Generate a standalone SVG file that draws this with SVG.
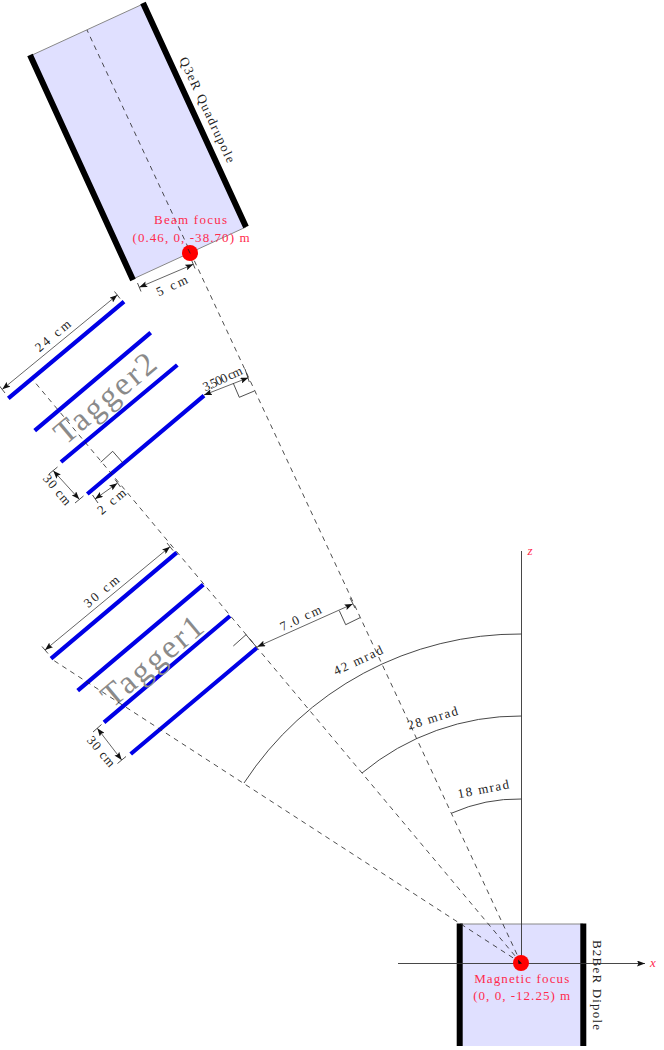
<svg xmlns="http://www.w3.org/2000/svg" width="664" height="1050" viewBox="0 0 664 1050">
<style>
text{font-family:"Liberation Serif","Times New Roman",serif;font-size:13px;fill:#222;text-anchor:middle}
.red{fill:#ff2a4d}
.big{font-size:33px;fill:#8a8a8a}
.mag{fill:#e0e0ff}
.edge{stroke:#888;stroke-width:1;fill:none}
.yoke{stroke:#000;stroke-width:6;fill:none}
.bar{stroke:#0000e6;stroke-width:4.2;fill:none}
.dash{stroke:#222;stroke-width:.8;stroke-dasharray:5 4.5;fill:none}
.thin{stroke:#222;stroke-width:.8;fill:none}
.arc{stroke:#333;stroke-width:.9;fill:none}
.dim{stroke:#222;stroke-width:.7;fill:none;marker-start:url(#a);marker-end:url(#a)}
.axis{stroke:#333;stroke-width:.9;fill:none;marker-end:url(#a)}
</style>
<defs>
<marker id="a" viewBox="0 0 8 6" refX="8" refY="3" markerWidth="8" markerHeight="6" markerUnits="userSpaceOnUse" orient="auto-start-reverse"><path d="M0 0L8 3L0 6L1.5 3Z" fill="#111"/></marker>
</defs>
<g id="q3er-quadrupole">
<polygon class="mag" points="143,4 246,227 133,279 30,56"/>
<path class="edge" d="M30 56L143 4M133 279L246 227"/>
<path class="yoke" d="M143 3L246 227M30 55L133 280"/>
<text transform="translate(207,110) rotate(65) translate(0,4)" textLength="115">Q3eR Quadrupole</text>
</g>
<g id="b2ber-dipole">
<rect class="mag" x="460" y="924" width="123" height="122"/>
<path class="edge" d="M460 924H583"/>
<path class="yoke" d="M459.700 923.500V1046M583.300 923.500V1046"/>
<text transform="translate(597,985) rotate(90) translate(0,4)" textLength="90">B2BeR Dipole</text>
</g>
<g id="tagger2">
<path class="bar" d="M8.300 398.300L124 301.700M34.700 430.700L150.700 332.700M61 462L177.300 365M87.300 494L204 395.700"/>
<text class="big" transform="translate(105,398) rotate(-40) translate(0,11)" textLength="122">Tagger2</text>
</g>
<g id="tagger1">
<path class="bar" d="M51 658.700L176.700 552.700M77.700 690.700L203.300 584.700M104 722.300L230 616M130.700 754L256.700 648"/>
<text class="big" transform="translate(152,661) rotate(-40) translate(0,11)" textLength="122">Tagger1</text>
</g>
<g id="connectors">
<path class="dash" d="M521 963L87 30M521 963L33 380M521 963L51 658.700"/>
<path class="arc" d="M521.500 634A329 329 0 0 0 244 783M521.500 716A247 247 0 0 0 362 773M521.500 799A164 164 0 0 0 452 813"/>
<path class="axis" d="M521.500 963V551M398 963.500H645"/>
<path class="dim" d="M139.300 287.300L193.300 264.300"/>
<path class="dim" d="M2.300 389.300L117.300 295"/>
<path class="dim" d="M53.300 470.700L79.300 499.300"/>
<path class="dim" d="M95 499L117.300 483.300"/>
<path class="dim" d="M204 395L248.300 377.700"/>
<path class="dim" d="M45 650L170 546.700"/>
<path class="dim" d="M97.300 728.300L121.700 760"/>
<path class="dim" d="M257.300 646.700L352.700 604"/>
<path class="thin" d="M137.500 283L141 291.500M191.500 260L195 268.500M-.5 386L5 393M114.500 291.500L120 298.500M49 474L57.500 467M75 503L83.500 496M92.500 495L98 503M115 479.500L120.500 487M245 369L249.300 382M42 646.500L48 653.500M167 543L173 550.500M93 732L101.500 724.500M117.500 763.500L126 756.500M350 598L355 608"/>
<path class="thin" d="M100.700 462.300L112.700 451.300L122.700 462.700M233.300 383.300L239.300 397.300L254.300 391M233.300 646L246 634.700L257.300 648M339.300 610.700L345.700 624.700L360 617.700"/>
</g>
<g id="magnetic-focus">
<circle cx="521" cy="963" r="8" fill="#f00"/>
<path d="M518 959.500L522 963.500L518.500 964Z" fill="#111"/>
<text class="red" x="521.700" y="983" textLength="95">Magnetic focus</text>
<text class="red" x="521.700" y="1000" textLength="97">(0, 0, -12.25) m</text>
</g>
<g id="beam-focus">
<circle cx="190" cy="253" r="8" fill="#f00"/>
<path class="dash" d="M188 249L191 255"/>
<text class="red" x="190.500" y="224" textLength="73">Beam focus</text>
<text class="red" x="191" y="242" textLength="117">(0.46, 0, -38.70) m</text>
</g>
<g id="labels">
<text transform="translate(172,286) rotate(-25) translate(0,4)" textLength="33">5 cm</text>
<text transform="translate(53,336) rotate(-40) translate(0,4)" textLength="42">24 cm</text>
<text transform="translate(57,490) rotate(50) translate(0,4)" textLength="36">30 cm</text>
<text transform="translate(111.700,501.700) rotate(-40) translate(0,4)" textLength="33">2 cm</text>
<text transform="translate(222.700,379) rotate(-25) translate(0,4)" textLength="42">3.500 cm</text>
<text transform="translate(101.700,591.700) rotate(-40) translate(0,4)" textLength="42">30 cm</text>
<text transform="translate(101,751.700) rotate(50) translate(0,4)" textLength="36">30 cm</text>
<text transform="translate(300.700,618.300) rotate(-25) translate(0,4)" textLength="44">7.0 cm</text>
<text transform="translate(358.300,660.700) rotate(-25) translate(0,4)" textLength="53">42 mrad</text>
<text transform="translate(432.700,718.300) rotate(-17) translate(0,4)" textLength="52">28 mrad</text>
<text transform="translate(483.300,789.300) rotate(-11) translate(0,4)" textLength="52">18 mrad</text>
<text class="red" x="530" y="555" font-style="italic" style="font-style:italic">z</text>
<text class="red" x="653" y="967" style="font-style:italic">x</text>
</g>
</svg>
